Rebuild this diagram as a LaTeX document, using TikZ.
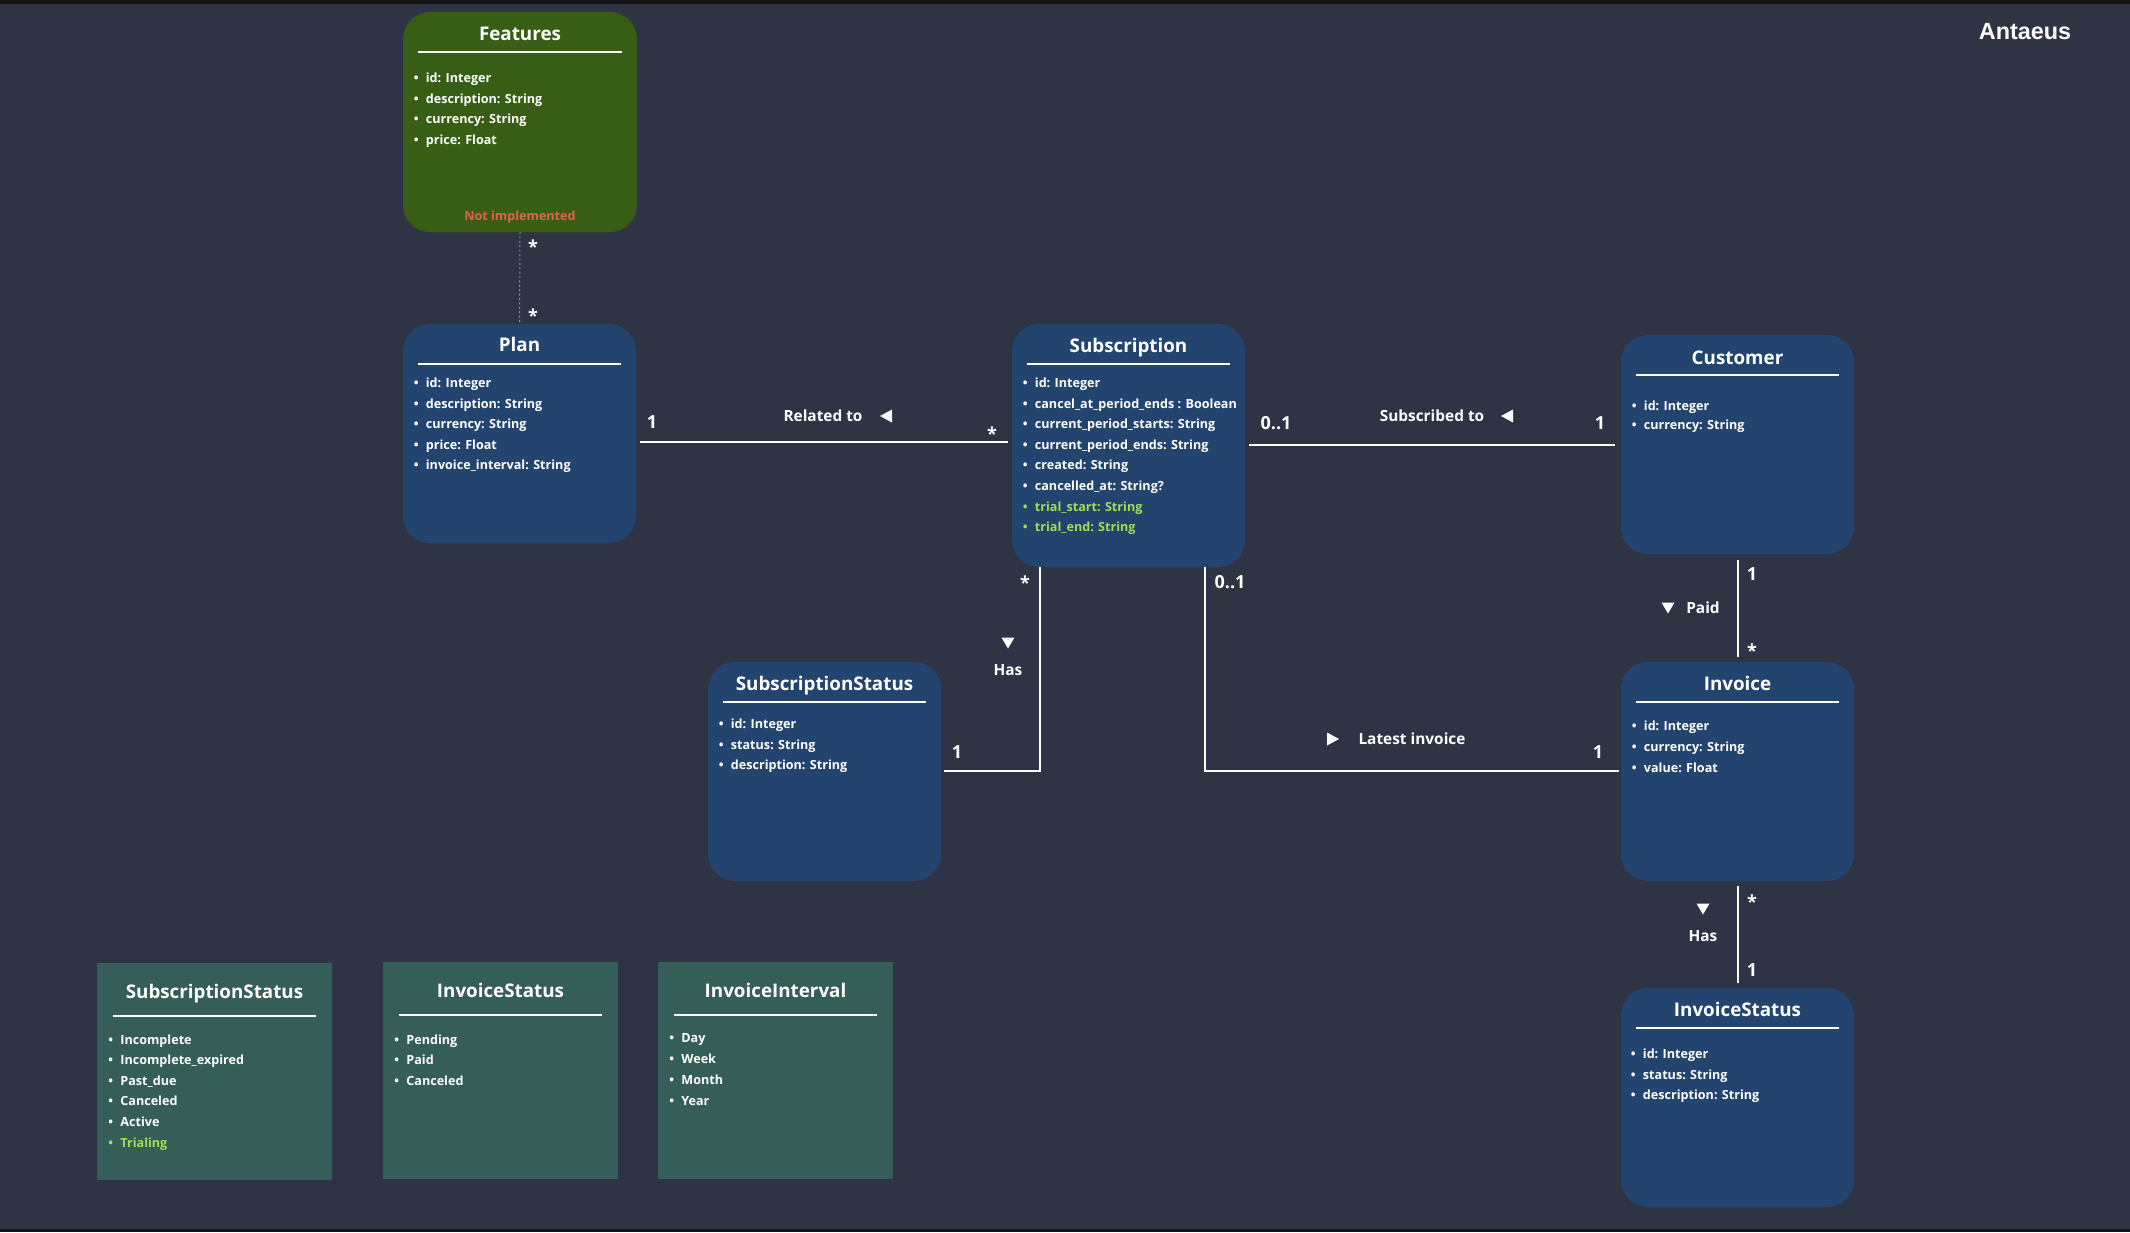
\documentclass[tikz,border=0pt]{standalone}
\usepackage{fontspec}
\setmainfont{Open Sans}
\newfontfamily\libsans{Liberation Sans}
\usetikzlibrary{calc}
\definecolor{bgc}{RGB}{46,52,68}
\definecolor{barc}{RGB}{20,20,22}
\definecolor{bluec}{RGB}{36,68,112}
\definecolor{greenc}{RGB}{56,94,22}
\definecolor{tealc}{RGB}{54,94,89}
\definecolor{limec}{RGB}{160,222,82}
\definecolor{redc}{RGB}{224,100,72}
\definecolor{dotc}{RGB}{140,146,158}
\newcommand\attrs[5]{%
  \foreach \col/\txt [count=\i] in {#5}{%
    \node[itm,text=\col,anchor=base west] (#1-a\i) at ($(#1.north west)+(#2,{#3+(\i-1)*#4})$) {\llap{•\hspace{3.7pt}}\txt};}}
\newcommand\classbox[7]{%
  \node[#2] (#1) at #3 {};
  \node[ttl,anchor=base] (#1-t) at ($(#1.north)+(0,#5)$) {#4};
  \draw[hline] ($(#1.north west)+(#7,#6)$) -- ($(#1.north east)+(-#7,#6)$);}
\begin{document}
\begin{tikzpicture}[x=0.5pt,y=-0.5pt,
  box/.style={anchor=north west,inner sep=0pt,outer sep=0pt,minimum width=116.5pt,minimum height=109.5pt,rounded corners=13.5pt},
  bluebox/.style={box,fill=bluec},
  greenbox/.style={box,fill=greenc,minimum width=117pt,minimum height=110pt},
  tealbox/.style={anchor=north west,inner sep=0pt,outer sep=0pt,minimum width=117.5pt,minimum height=108.5pt,fill=tealc},
  ttl/.style={text=white,inner sep=0pt,font=\fontsize{9.4pt}{11pt}\selectfont\bfseries},
  itm/.style={inner sep=0pt,font=\fontsize{6.3pt}{7.5pt}\selectfont\bfseries},
  hline/.style={draw=white,line width=0.6pt},
  conn/.style={draw=white,line width=1pt},
  dotl/.style={draw=dotc,line width=0.5pt,dash pattern=on 1pt off 1.2pt},
  mult/.style={text=white,inner sep=0pt,font=\fontsize{9pt}{11pt}\selectfont\bfseries},
  lbl/.style={text=white,inner sep=0pt,font=\fontsize{7.7pt}{9pt}\selectfont\bfseries},
  tri/.style={fill=white}
]
\useasboundingbox (0,0) rectangle (2130,1232);
\fill[bgc] (0,0) rectangle (2130,1232);
\fill[barc] (0,0) rectangle (2130,4);
\fill[barc] (0,1229) rectangle (2130,1232);

% class boxes
\classbox{feat}{greenbox}{(403,12)}{Features}{28}{40}{15}
\attrs{feat}{22.5}{70.5}{20.6}{white/id: Integer,white/description: String,white/currency: String,white/price: Float}
\node[itm,text=redc,anchor=base] (feat-ni) at ($(feat.north)+(0,208.5)$) {Not implemented};

\classbox{plan}{bluebox}{(403,324)}{Plan}{27.5}{40}{15}
\attrs{plan}{22.5}{63.5}{20.5}{white/id: Integer,white/description: String,white/currency: String,white/price: Float,white/invoice\_interval: String}

\classbox{sub}{bluebox,minimum height=121.5pt}{(1012,324)}{Subscription}{28}{40}{15}
\attrs{sub}{22.5}{63.5}{20.6}{white/id: Integer,white/cancel\_at\_period\_ends : Boolean,white/current\_period\_starts: String,white/current\_period\_ends: String,white/created: String,white/cancelled\_at: String?,limec/trial\_start: String,limec/trial\_end: String}

\classbox{cust}{bluebox}{(1621,335)}{Customer}{29.5}{40}{15}
\attrs{cust}{22.5}{75}{19.5}{white/id: Integer,white/currency: String}

\classbox{substat}{bluebox}{(708,662)}{SubscriptionStatus}{28}{40}{15}
\attrs{substat}{22.5}{66.5}{20.5}{white/id: Integer,white/status: String,white/description: String}

\classbox{inv}{bluebox}{(1621,662)}{Invoice}{28}{40}{15}
\attrs{inv}{22.5}{68.5}{21}{white/id: Integer,white/currency: String,white/value: Float}

\classbox{invstat}{bluebox}{(1621,988)}{InvoiceStatus}{28}{40}{15}
\attrs{invstat}{21.5}{70.5}{20.5}{white/id: Integer,white/status: String,white/description: String}

% enumerations
\classbox{esub}{tealbox}{(97,963)}{SubscriptionStatus}{35}{53}{16}
\attrs{esub}{23}{81}{20.6}{white/Incomplete,white/Incomplete\_expired,white/Past\_due,white/Canceled,white/Active,limec/Trialing}

\classbox{einv}{tealbox}{(383,962)}{InvoiceStatus}{35}{53}{16}
\attrs{einv}{23}{82}{20.5}{white/Pending,white/Paid,white/Canceled}

\classbox{eint}{tealbox}{(658,962)}{InvoiceInterval}{35}{53}{16}
\attrs{eint}{23}{80}{21}{white/Day,white/Week,white/Month,white/Year}

% title
\node[text=white,inner sep=0pt,anchor=base,font=\libsans\fontsize{11.7pt}{14pt}\selectfont\bfseries] (brand) at (2025,39.4) {Antaeus};

% connectors
\draw[dotl] (feat.south) -- (plan.north);
\coordinate (yA) at (0,442);
\draw[conn,shorten <=2pt,shorten >=2pt] (plan.east |- yA) -- (sub.west |- yA);
\coordinate (yB) at (0,445);
\draw[conn,shorten <=2pt,shorten >=3pt] (sub.east |- yB) -- (cust.west |- yB);
\coordinate (hasA) at (1040,771);
\draw[conn,shorten >=1.5pt] (sub.south -| hasA) -- (hasA) -- (substat.east |- hasA);
\coordinate (latA) at (1205,771);
\draw[conn,shorten >=1pt] (sub.south -| latA) -- (latA) -- (inv.west |- latA);
\draw[conn,shorten <=3pt,shorten >=2.5pt] (cust.south) -- (inv.north);
\draw[conn,shorten <=2.5pt,shorten >=2.5pt] (inv.south) -- (invstat.north);

% multiplicities
\node[mult,anchor=base] (m1) at (533,253.5) {*};
\node[mult,anchor=base] (m2) at (533,322.5) {*};
\node[mult,anchor=base] (m3) at (652,428.4) {1};
\node[mult,anchor=base] (m4) at (992,440.5) {*};
\node[mult,anchor=base] (m5) at (1276,429.4) {0..1};
\node[mult,anchor=base] (m6) at (1600,429.4) {1};
\node[mult,anchor=base] (m7) at (1025,589.5) {*};
\node[mult,anchor=base] (m8) at (957,758.4) {1};
\node[mult,anchor=base] (m9) at (1230,588.4) {0..1};
\node[mult,anchor=base] (m10) at (1598,758.4) {1};
\node[mult,anchor=base] (m11) at (1752,580.4) {1};
\node[mult,anchor=base] (m12) at (1752,657.5) {*};
\node[mult,anchor=base] (m13) at (1752,908.5) {*};
\node[mult,anchor=base] (m14) at (1752,976.4) {1};

% association labels
\node[lbl,anchor=base] (l1) at (823,421.5) {Related to};
\node[lbl,anchor=base] (l2) at (1432,421.5) {Subscribed to};
\node[lbl,anchor=base] (l3) at (1008,675.5) {Has};
\node[lbl,anchor=base] (l4) at (1412,744.5) {Latest invoice};
\node[lbl,anchor=base] (l5) at (1703,613.5) {Paid};
\node[lbl,anchor=base] (l6) at (1703,941.5) {Has};

% direction triangles
\fill[tri] (880,416) -- (892,409.5) -- (892,422.5) -- cycle;
\fill[tri] (1501,416) -- (1513,409.5) -- (1513,422.5) -- cycle;
\fill[tri] (1339,739) -- (1327,732.5) -- (1327,745.5) -- cycle;
\fill[tri] (1008,648.5) -- (1001.5,637.5) -- (1014.5,637.5) -- cycle;
\fill[tri] (1668,613.5) -- (1661.5,602.5) -- (1674.5,602.5) -- cycle;
\fill[tri] (1703,914.5) -- (1696.5,903.5) -- (1709.5,903.5) -- cycle;
\end{tikzpicture}
\end{document}
